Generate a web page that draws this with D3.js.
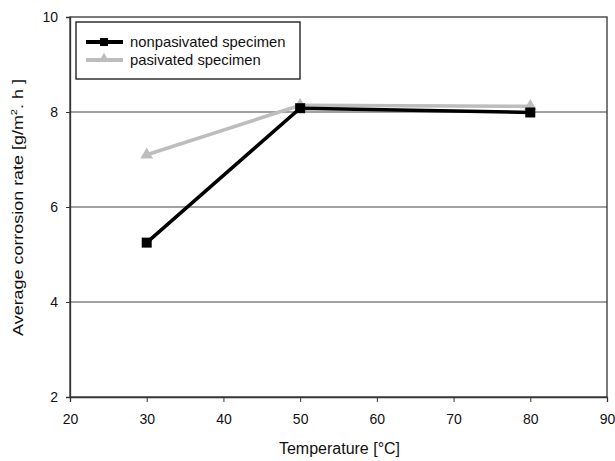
<!DOCTYPE html>
<html><head><meta charset="utf-8">
<script src="https://cdn.jsdelivr.net/npm/d3@7"></script>
<style>body{margin:0;background:#fff}svg{display:block}text{font-family:"Liberation Sans",Arial,sans-serif;fill:#111}</style>
</head><body><svg id="c" width="615" height="461"></svg>
<script>
const temperatures = [30, 50, 80];
const nonpasivated = [5.25, 8.08, 7.99];
const pasivated = [7.1, 8.14, 8.12];
const xTicks = [20, 30, 40, 50, 60, 70, 80, 90];
const yTicks = [2, 4, 6, 8, 10];
const seriesNames = ["nonpasivated specimen", "pasivated specimen"];

const svg = d3.select("#c");
const m = {l: 70, r: 8, t: 17, b: 64};
const W = 615, H = 461;
const x = d3.scaleLinear().domain([20, 90]).range([m.l, W - m.r]);
const y = d3.scaleLinear().domain([2, 10]).range([H - m.b, m.t]);

// gridlines
svg.append("g").selectAll("line").data(yTicks.filter(v => v > 2 && v < 10)).join("line")
  .attr("x1", x(20)).attr("x2", x(90)).attr("y1", d => y(d)).attr("y2", d => y(d))
  .attr("stroke", "#444").attr("stroke-width", 1.2);

// frame
svg.append("rect").attr("x", x(20)).attr("y", y(10)).attr("width", x(90) - x(20)).attr("height", y(2) - y(10))
  .attr("fill", "none").attr("stroke", "#333").attr("stroke-width", 1.3);

const xAxis = svg.append("g").attr("transform", `translate(0,${y(2)})`)
  .call(d3.axisBottom(x).tickValues(xTicks).tickSize(5).tickPadding(12).tickFormat(d3.format("d")));
const yAxis = svg.append("g").attr("transform", `translate(${x(20)},0)`)
  .call(d3.axisLeft(y).tickValues(yTicks).tickSize(4).tickPadding(8).tickFormat(d3.format("d")));
[xAxis, yAxis].forEach(a => {
  a.select(".domain").attr("stroke", "#333").attr("stroke-width", 1.3);
  a.selectAll(".tick line").attr("stroke", "#333");
  a.selectAll("text").style("font-size", "14px").style("font-family", '"Liberation Sans",Arial,sans-serif').attr("fill", "#111");
});

svg.append("text").attr("x", (x(20) + x(90)) / 2 + 1).attr("y", 454).attr("text-anchor", "middle")
  .style("font-size", "16px").text("Temperature [°C]");

const yl = svg.append("text").attr("text-anchor", "middle").style("font-size", "14.5px");
yl.append("tspan").text("Average corrosion rate [g/m");
yl.append("tspan").attr("dy", -6).style("font-size", "9px").text("2");
yl.append("tspan").attr("dy", 6).text(". h ]");
const ylLen = yl.node().getComputedTextLength();
const sx = 257 / ylLen;
yl.attr("transform", `translate(23,${(79 + 336) / 2}) rotate(-90) scale(${sx},1)`);

const line = d3.line().x((d, i) => x(temperatures[i])).y(d => y(d));
const tri = d3.symbol().type(d3.symbolTriangle).size(70);

svg.append("path").datum(pasivated).attr("d", line).attr("fill", "none").attr("stroke", "#bdbdbd").attr("stroke-width", 3.5);
svg.append("g").selectAll("path").data(pasivated).join("path")
  .attr("d", tri).attr("transform", (d, i) => `translate(${x(temperatures[i])},${y(d)})`).attr("fill", "#bdbdbd");

svg.append("path").datum(nonpasivated).attr("d", line).attr("fill", "none").attr("stroke", "#000").attr("stroke-width", 3.5);
svg.append("g").selectAll("rect").data(nonpasivated).join("rect")
  .attr("x", (d, i) => x(temperatures[i]) - 5).attr("y", d => y(d) - 5).attr("width", 10).attr("height", 10).attr("fill", "#000");

// legend
const lg = svg.append("g");
lg.append("rect").attr("x", 76).attr("y", 22).attr("width", 224).attr("height", 57)
  .attr("fill", "#fff").attr("stroke", "#111").attr("stroke-width", 1.3);
const lc = ["#000", "#bdbdbd"];
seriesNames.forEach((n, i) => {
  const ly = 42 + i * 18;
  lg.append("line").attr("x1", 86).attr("x2", 123).attr("y1", ly).attr("y2", ly).attr("stroke", lc[i]).attr("stroke-width", 4);
  if (i === 0) lg.append("rect").attr("x", 100).attr("y", ly - 4).attr("width", 8).attr("height", 8).attr("fill", "#000");
  else lg.append("path").attr("d", d3.symbol().type(d3.symbolTriangle).size(50)).attr("transform", `translate(104,${ly - 1})`).attr("fill", "#bdbdbd");
  lg.append("text").attr("x", 130).attr("y", ly + 4.5).style("font-size", "14.8px").text(n);
});
</script></body></html>
